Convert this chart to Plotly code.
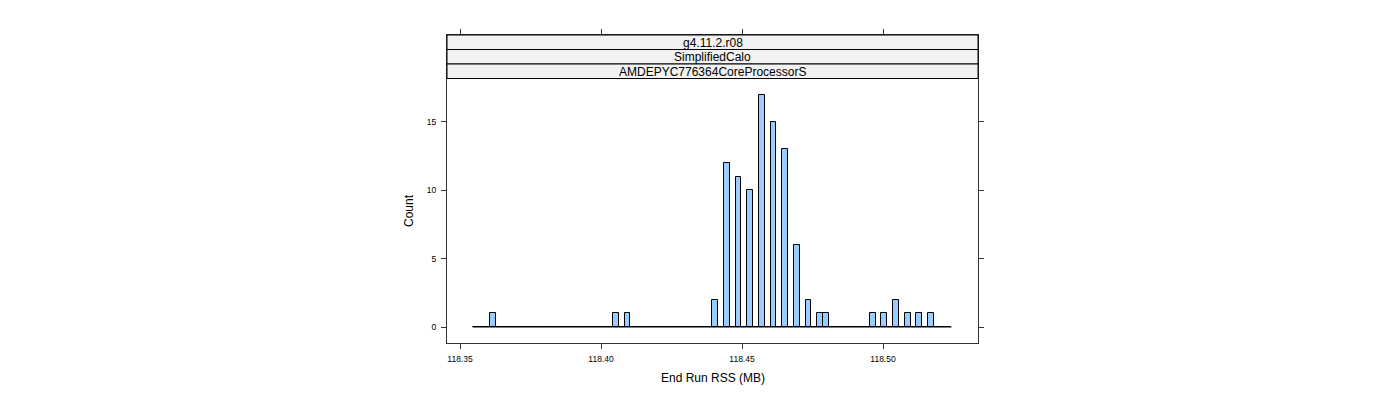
import plotly.graph_objects as go

# Histogram data (End Run RSS in MB)
break_start = 118.35454
break_end = 118.52429
counts = [0, 0, 0, 1, 0, 0, 0, 0, 0, 0,
          0, 0, 0, 0, 0, 0, 0, 0, 0, 0,
          0, 0, 0, 0, 1, 0, 1, 0, 0, 0,
          0, 0, 0, 0, 0, 0, 0, 0, 0, 0,
          0, 2, 0, 12, 0, 11, 0, 10, 0, 17,
          0, 15, 0, 13, 0, 6, 0, 2, 0, 1,
          1, 0, 0, 0, 0, 0, 0, 0, 1, 0,
          1, 0, 2, 0, 1, 0, 1, 0, 1, 0,
          0, 0]
x_ticks = [118.35, 118.40, 118.45, 118.50]
x_tick_labels = ["118.35", "118.40", "118.45", "118.50"]
y_ticks = [0, 5, 10, 15]
strip_labels = ["g4.11.2.r08", "SimplifiedCalo", "AMDEPYC776364CoreProcessorS"]

nb = len(counts)
bw = (break_end - break_start) / nb
centers = [break_start + (i + 0.5) * bw for i in range(nb)]

FONT = "Liberation Sans, Arial, sans-serif"
W, H = 1400, 400
L, R, T, B = 447, 978, 35, 343

fig = go.Figure()
fig.add_trace(go.Scatter(x=[break_start, break_end], y=[0, 0], mode="lines",
                         line=dict(color="black", width=1), hoverinfo="skip",
                         showlegend=False))
fig.add_trace(go.Bar(x=centers, y=counts, width=bw,
                     marker=dict(color="#99CCFF", line=dict(color="black", width=1)),
                     showlegend=False))

axis_common = dict(showline=True, linecolor="#333333", linewidth=1, mirror="allticks",
                   ticks="outside", ticklen=5, tickcolor="#333333", showgrid=False,
                   zeroline=False, tickfont=dict(family=FONT, size=8.5, color="black"))
fig.update_xaxes(range=[118.34539, 118.53369], tickvals=x_ticks, ticktext=x_tick_labels,
                 ticklabelstandoff=3, **axis_common)
fig.update_yaxes(range=[-1.17, 21.36], tickvals=y_ticks, ticklabelstandoff=3,
                 **axis_common)

# strips
ph = B - T
def py(pix):
    return (B - pix) / ph

strip_edges = [35, 49.5, 64, 78.5]
shapes = []
annotations = []
for i, lab in enumerate(strip_labels):
    y0p, y1p = strip_edges[i], strip_edges[i + 1]
    shapes.append(dict(type="rect", xref="paper", yref="paper", x0=0, x1=1,
                       y0=py(y1p), y1=py(y0p), fillcolor="#F2F2F2",
                       line=dict(color="black", width=1), layer="above"))
    annotations.append(dict(text=lab, xref="paper", yref="paper", x=0.5,
                            y=py((y0p + y1p) / 2 + 0.5), showarrow=False,
                            font=dict(family=FONT, size=12, color="black"),
                            xanchor="center", yanchor="middle"))

annotations.append(dict(text="Count", xref="paper", yref="paper", x=(409 - L) / (R - L),
                        y=py(211), textangle=-90, showarrow=False,
                        font=dict(family=FONT, size=12, color="black"),
                        xanchor="center", yanchor="middle"))
annotations.append(dict(text="End Run RSS (MB)", xref="paper", yref="paper", x=0.5,
                        y=py(378), showarrow=False,
                        font=dict(family=FONT, size=12, color="black"),
                        xanchor="center", yanchor="middle"))

fig.update_layout(width=W, height=H, margin=dict(l=L, r=W - R, t=T, b=H - B),
                  paper_bgcolor="white", plot_bgcolor="white", bargap=0,
                  shapes=shapes, annotations=annotations, showlegend=False)

fig.write_html("out.html")
